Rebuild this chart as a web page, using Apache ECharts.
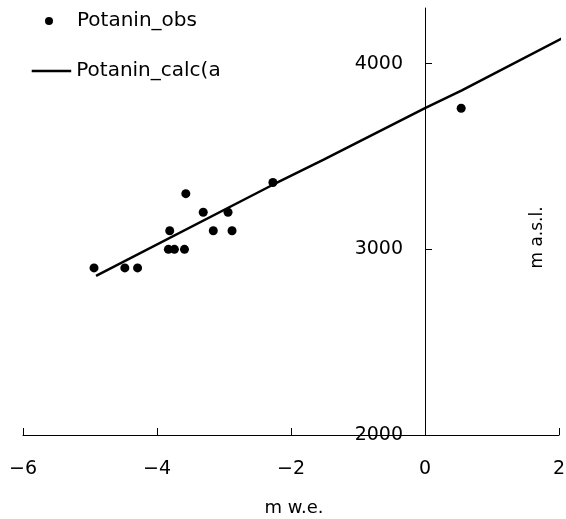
<!DOCTYPE html>
<html>
<head>
<meta charset="utf-8">
<script src="https://cdn.jsdelivr.net/npm/echarts@6/dist/echarts.min.js"></script>
<style>
html,body{margin:0;padding:0;background:#fff;}
#main{width:566px;height:519px;}
</style>
</head>
<body>
<div id="main"></div>
<script>
// Observed points: balance (m w.e.) and altitude (m a.s.l.)
var obsBalance = [-4.94, -4.48, -4.29, -3.81, -3.83, -3.74, -3.59, -3.57, -3.31, -3.16, -2.94, -2.88, -2.27, 0.54];
var obsAltitude = [2900, 2900, 2900, 3100, 3000, 3000, 3000, 3300, 3200, 3100, 3200, 3100, 3360, 3760];
// Calculated line
var calcBalance = [-4.91, -2.27, -1.52, 0, 0.55, 2.06];
var calcAltitude = [2857, 3348, 3482, 3761, 3856, 4139];
var xTicks = [-6, -4, -2, 0, 2];
var yTicks = [2000, 3000, 4000];

var FONT = 'DejaVu Sans';
var obsData = obsBalance.map(function (v, i) { return [v, obsAltitude[i]]; });
var calcData = calcBalance.map(function (v, i) { return [v, calcAltitude[i]]; });

var chart = echarts.init(document.getElementById('main'), null, {renderer: 'canvas'});
chart.setOption({
  animation: false,
  backgroundColor: '#fff',
  textStyle: {fontFamily: FONT},
  grid: {left: 23, right: 7, top: 8, bottom: 84, containLabel: false, outerBoundsMode: 'none'},
  legend: [{
    data: [{name: 'Potanin_obs', icon: 'circle'}],
    left: 45, top: 11, padding: 0,
    itemWidth: 8, itemHeight: 8,
    textStyle: {fontFamily: FONT, fontSize: 20, color: '#000', padding: [0, 0, 0, 19]}
  }, {
    data: [{name: 'Potanin_calc(a', icon: 'rect'}],
    left: 31.7, top: 61, padding: 0,
    itemWidth: 39.5, itemHeight: 2.5,
    textStyle: {fontFamily: FONT, fontSize: 20, color: '#000'}
  }],
  xAxis: {
    type: 'value', min: -6, max: 2, interval: 2,
    name: 'm w.e.', nameLocation: 'middle', nameGap: 64,
    nameTextStyle: {fontFamily: FONT, fontSize: 18, color: '#000', padding: [0, 0, 0, 6]},
    axisLine: {onZero: false, lineStyle: {color: '#000', width: 1}},
    axisTick: {inside: true, length: 7, lineStyle: {color: '#000'}, customValues: xTicks},
    axisLabel: {margin: 25, fontFamily: FONT, fontSize: 19, color: '#000', customValues: xTicks,
      formatter: function (v) { return v < 0 ? '\u2212' + Math.abs(v) : String(v); }},
    splitLine: {show: false}
  },
  yAxis: {
    type: 'value', min: 2000, max: 4300, interval: 1000,
    position: 'left', offset: -402,
    name: 'm a.s.l.', nameLocation: 'middle', nameGap: -121,
    nameTextStyle: {fontFamily: FONT, fontSize: 17, color: '#000', padding: [0, 32, 0, 0]},
    axisLine: {onZero: false, lineStyle: {color: '#000', width: 1}},
    axisTick: {inside: true, length: 7, lineStyle: {color: '#000'}, customValues: yTicks},
    axisLabel: {margin: 22, fontFamily: FONT, fontSize: 19, color: '#000', customValues: yTicks,
      formatter: function (v) { return String(v); }},
    splitLine: {show: false}
  },
  series: [{
    name: 'Potanin_obs', type: 'scatter', data: obsData,
    symbol: 'circle', symbolSize: 9,
    itemStyle: {color: '#000', opacity: 1}, z: 3
  }, {
    name: 'Potanin_calc(a', type: 'line', data: calcData,
    showSymbol: false, symbol: 'none', clip: false,
    lineStyle: {color: '#000', width: 2.5},
    itemStyle: {color: '#000'}, z: 2
  }]
});
</script>
</body>
</html>
